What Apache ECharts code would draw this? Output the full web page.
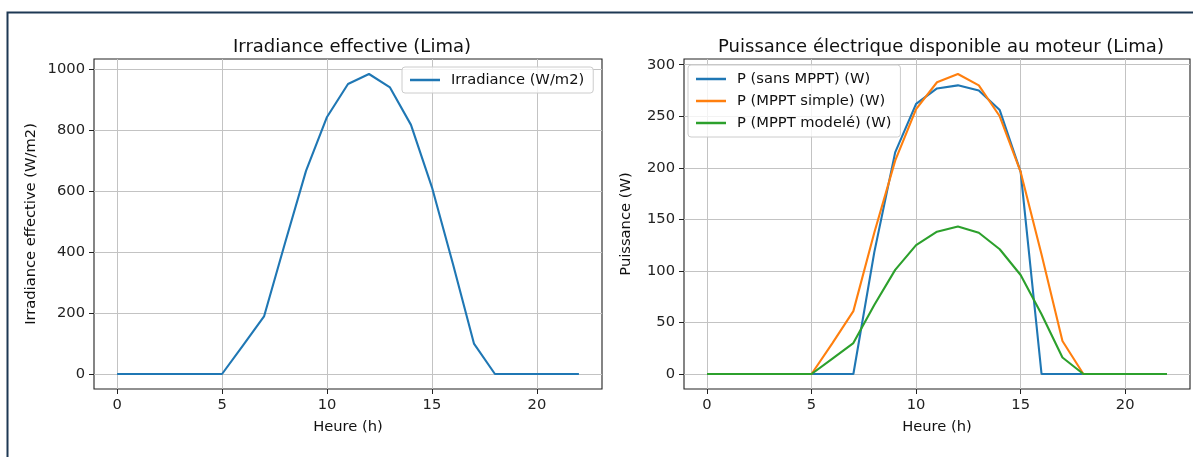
<!DOCTYPE html>
<html>
<head>
<meta charset="utf-8">
<script src="https://cdn.jsdelivr.net/npm/echarts@6/dist/echarts.min.js"></script>
<style>
html,body{margin:0;padding:0;background:#fff;}
#c{width:1193px;height:457px;}
</style>
</head>
<body>
<div id="c"></div>
<script>
// ---- data ----
const hours = [0,1,2,3,4,5,6,7,8,9,10,11,12,13,14,15,16,17,18,19,20,21,22];
const irradiance = [0,0,0,0,0,0,94,189,430,667,844,952,985,941,818,613,361,100,0,0,0,0,0];
const pSansMppt   = [0,0,0,0,0,0,0,0,118,215,262,277,280,275,256,196,0,0,0,0,0,0,0];
const pMpptSimple = [0,0,0,0,0,0,30,61,137,207,257,283,291,280,250,196,116,32,0,0,0,0,0];
const pMpptModele = [0,0,0,0,0,0,15,30,67,101,125,138,143,137,121,96,58,16,0,0,0,0,0];
const xTicks = [0,5,10,15,20];
const irrTicks = [0,200,400,600,800,1000];
const powTicks = [0,50,100,150,200,250,300];
const names = {
  irr: 'Irradiance (W/m2)',
  sans: 'P (sans MPPT) (W)',
  simple: 'P (MPPT simple) (W)',
  modele: 'P (MPPT modelé) (W)'
};

// ---- helpers ----
const FONT = 'DejaVu Sans';
const FS = 14.7;
function pairs(arr){ return hours.map((h,i)=>[h, arr[i]]); }
function padRange(lists){
  let lo = Infinity, hi = -Infinity;
  lists.forEach(a=>a.forEach(v=>{ if(v<lo)lo=v; if(v>hi)hi=v; }));
  const m = (hi-lo)*0.05;
  return [lo-m, hi+m];
}
const xr = padRange([hours]);
const yr1 = padRange([irradiance]);
const yr2 = padRange([pSansMppt,pMpptSimple,pMpptModele]);
const fmt = v => String(Math.round(v));

function xAxis(gi, ticks){
  return {
    type:'value', gridIndex:gi, min:xr[0], max:xr[1], position:'bottom',
    name:'Heure (h)', nameLocation:'middle', nameGap:31,
    nameTextStyle:{fontFamily:FONT,fontSize:FS,color:'#111'},
    axisLine:{show:false, onZero:false},
    axisTick:{show:true, inside:false, length:5, customValues:ticks, lineStyle:{color:'#222',width:1}},
    axisLabel:{customValues:ticks, margin:9, fontFamily:FONT, fontSize:FS, color:'#222', formatter:fmt},
    splitLine:{show:true, lineStyle:{color:'#c3c3c3', width:1}}
  };
}
function yAxis(gi, range, ticks, name, gap){
  return {
    type:'value', gridIndex:gi, min:range[0], max:range[1], position:'left',
    name:name, nameLocation:'middle', nameGap:gap, nameRotate:90,
    nameTextStyle:{fontFamily:FONT,fontSize:FS,color:'#111'},
    axisLine:{show:false, onZero:false},
    axisTick:{show:true, inside:false, length:5, customValues:ticks, lineStyle:{color:'#222',width:1}},
    axisLabel:{customValues:ticks, margin:9, fontFamily:FONT, fontSize:FS, color:'#222', formatter:fmt},
    splitLine:{show:true, lineStyle:{color:'#c3c3c3', width:1}}
  };
}
function line(name, arr, color, xi, yi){
  return {
    type:'line', name:name, data:pairs(arr), xAxisIndex:xi, yAxisIndex:yi,
    symbol:'none', showSymbol:false, smooth:false,
    lineStyle:{color:color, width:2.1}, itemStyle:{color:color},
    emphasis:{disabled:true}, z:5
  };
}

const chart = echarts.init(document.getElementById('c'), null, {renderer:'canvas'});
chart.setOption({
  animation:false,
  backgroundColor:'#ffffff',
  title:[
    {text:'Irradiance effective (Lima)', left:347, top:33, textAlign:'center',
     textStyle:{fontFamily:FONT,fontSize:18,fontWeight:'normal',color:'#111'}},
    {text:'Puissance électrique disponible au moteur (Lima)', left:936, top:33, textAlign:'center',
     textStyle:{fontFamily:FONT,fontSize:18,fontWeight:'normal',color:'#111'}}
  ],
  grid:[
    {left:94, top:59, width:508, height:330, show:true, borderColor:'#222', borderWidth:1.1, backgroundColor:'transparent'},
    {left:684, top:59, width:506, height:330, show:true, borderColor:'#222', borderWidth:1.1, backgroundColor:'transparent'}
  ],
  xAxis:[ xAxis(0, xTicks), xAxis(1, xTicks) ],
  yAxis:[
    yAxis(0, yr1, irrTicks, 'Irradiance effective (W/m2)', 55),
    yAxis(1, yr2, powTicks, 'Puissance (W)', 50)
  ],
  legend:[
    {data:[names.irr], left:402, top:67, orient:'vertical', icon:'rect', itemWidth:30, itemHeight:2.5,
     padding:[5,9,5,8], backgroundColor:'rgba(255,255,255,0.8)', borderColor:'#cccccc', borderWidth:1, borderRadius:3,
     selectedMode:false,
     textStyle:{fontFamily:FONT,fontSize:FS,color:'#111',lineHeight:16,padding:[0,0,0,6]}},
    {data:[names.sans,names.simple,names.modele], left:688, top:65, orient:'vertical', icon:'rect', itemWidth:30, itemHeight:2.5,
     itemGap:6, padding:[6,9,6,8], backgroundColor:'rgba(255,255,255,0.8)', borderColor:'#cccccc', borderWidth:1, borderRadius:3,
     selectedMode:false,
     textStyle:{fontFamily:FONT,fontSize:FS,color:'#111',lineHeight:16,padding:[0,0,0,6]}}
  ],
  graphic:[
    {type:'rect', shape:{x:7.5, y:12.5, width:1400, height:700}, style:{fill:null, stroke:'#1e3954', lineWidth:2}, z:100, silent:true}
  ],
  series:[
    line(names.irr, irradiance, '#1f77b4', 0, 0),
    line(names.sans, pSansMppt, '#1f77b4', 1, 1),
    line(names.simple, pMpptSimple, '#ff7f0e', 1, 1),
    line(names.modele, pMpptModele, '#2ca02c', 1, 1)
  ]
});
</script>
</body>
</html>
